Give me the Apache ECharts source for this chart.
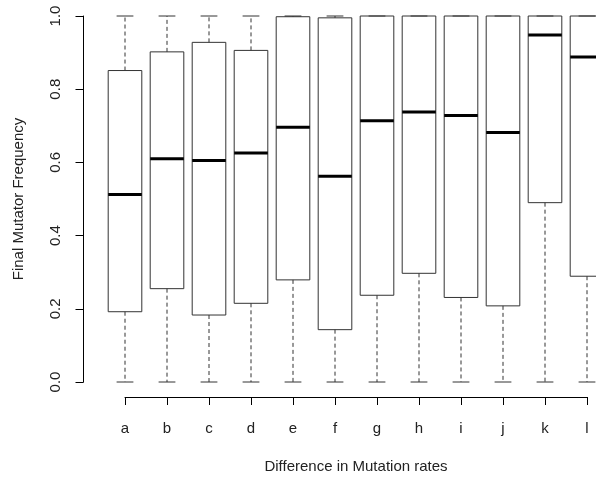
<!DOCTYPE html>
<html>
<head>
<meta charset="utf-8">
<script src="https://cdn.jsdelivr.net/npm/echarts@6/dist/echarts.min.js"></script>
<style>
  html, body { margin: 0; padding: 0; background: #ffffff; }
  #chart { width: 596px; height: 479px; }
</style>
</head>
<body>
<div id="chart"></div>
<script>
// Groups on the x axis
var categories = ['a', 'b', 'c', 'd', 'e', 'f', 'g', 'h', 'i', 'j', 'k', 'l'];

// Five-number summaries of final mutator frequency per group
var lowerWhisker = [0, 0, 0, 0, 0, 0, 0, 0, 0, 0, 0, 0];
var lowerQuartile = [0.192, 0.255, 0.183, 0.215, 0.279, 0.143, 0.237, 0.297, 0.231, 0.208, 0.490, 0.289];
var medians = [0.512, 0.610, 0.605, 0.626, 0.696, 0.562, 0.714, 0.738, 0.728, 0.682, 0.948, 0.888];
var upperQuartile = [0.851, 0.902, 0.928, 0.906, 0.998, 0.995, 1, 1, 1, 1, 1, 1];
var upperWhisker = [1, 1, 1, 1, 1, 1, 1, 1, 1, 1, 1, 1];

// y-axis tick values
var yTicks = [0, 0.2, 0.4, 0.6, 0.8, 1.0];

var boxData = categories.map(function (c, i) {
  return [i, lowerWhisker[i], lowerQuartile[i], medians[i], upperQuartile[i], upperWhisker[i]];
});

var FONT = '"Liberation Sans", Arial, sans-serif';
var TEXT = '#222222';
var FS = 15;

function renderBox(params, api) {
  var i = api.value(0);
  var band = api.size([1, 0])[0];
  var half = band * 0.8 / 2;
  var capHalf = half / 2;
  var pMin = api.coord([i, api.value(1)]);
  var pQ1 = api.coord([i, api.value(2)]);
  var pMed = api.coord([i, api.value(3)]);
  var pQ3 = api.coord([i, api.value(4)]);
  var pMax = api.coord([i, api.value(5)]);
  var cx = Math.round(pMed[0]);
  var lineStyle = { stroke: '#333333', lineWidth: 1, fill: null };
  var dashStyle = { stroke: '#333333', lineWidth: 1, lineDash: [4, 3], fill: null };
  return {
    type: 'group',
    children: [
      { type: 'line', shape: { x1: cx, y1: pQ3[1], x2: cx, y2: pMax[1] }, style: dashStyle },
      { type: 'line', shape: { x1: cx, y1: pQ1[1], x2: cx, y2: pMin[1] }, style: dashStyle },
      { type: 'line', shape: { x1: cx - capHalf, y1: pMax[1], x2: cx + capHalf, y2: pMax[1] }, style: lineStyle },
      { type: 'line', shape: { x1: cx - capHalf, y1: pMin[1], x2: cx + capHalf, y2: pMin[1] }, style: lineStyle },
      { type: 'rect', shape: { x: cx - half, y: pQ3[1], width: half * 2, height: pQ1[1] - pQ3[1] }, style: lineStyle },
      { type: 'line', shape: { x1: cx - half, y1: pMed[1], x2: cx + half, y2: pMed[1] }, style: { stroke: '#000000', lineWidth: 3 } }
    ]
  };
}

var chart = echarts.init(document.getElementById('chart'), null, { renderer: 'canvas' });
chart.setOption({
  animation: false,
  backgroundColor: '#ffffff',
  grid: { left: 125, top: 16, width: 462, height: 370, containLabel: false },
  xAxis: {
    type: 'category',
    data: categories,
    boundaryGap: false,
    offset: 15,
    name: 'Difference in Mutation rates',
    nameLocation: 'middle',
    nameGap: 62,
    nameTextStyle: { color: TEXT, fontFamily: FONT, fontSize: FS },
    axisLine: { show: true, onZero: false, lineStyle: { color: '#000000', width: 1 } },
    axisTick: { show: true, length: 8, lineStyle: { color: '#000000' } },
    axisLabel: { color: TEXT, fontFamily: FONT, fontSize: FS, margin: 24, interval: 0 },
    splitLine: { show: false }
  },
  yAxis: {
    type: 'value',
    min: yTicks[0],
    max: yTicks[yTicks.length - 1],
    interval: 0.2,
    offset: 41.5,
    name: 'Final Mutator Frequency',
    nameLocation: 'middle',
    nameGap: 57,
    nameTextStyle: { color: TEXT, fontFamily: FONT, fontSize: FS },
    axisLine: { show: true, onZero: false, lineStyle: { color: '#000000', width: 1 } },
    axisTick: { show: true, length: 8, lineStyle: { color: '#000000' } },
    axisLabel: {
      color: TEXT, fontFamily: FONT, fontSize: FS, rotate: 90, margin: 20,
      formatter: function (v) { return v.toFixed(1); }
    },
    splitLine: { show: false }
  },
  series: [{
    type: 'custom',
    renderItem: renderBox,
    data: boxData,
    clip: false,
    encode: { x: 0, y: [1, 2, 3, 4, 5] }
  }]
});
</script>
</body>
</html>
